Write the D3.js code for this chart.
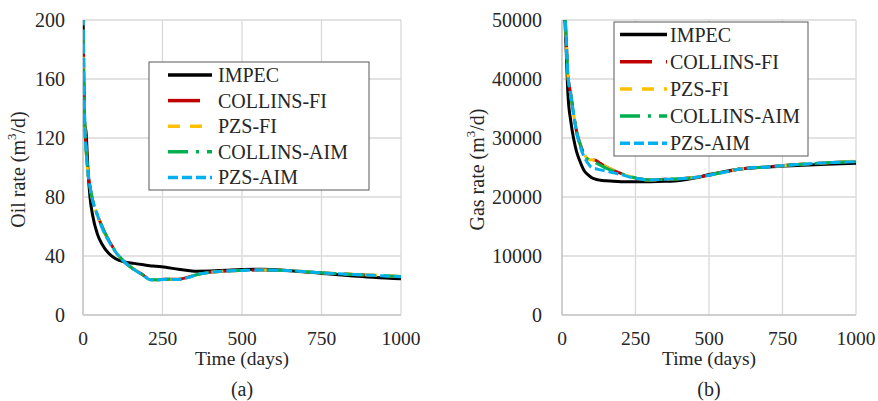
<!DOCTYPE html>
<html><head><meta charset="utf-8">
<script src="https://cdn.jsdelivr.net/npm/d3@7"></script>
<style>
body{margin:0;background:#fff}
text{font-family:"Liberation Serif","Times New Roman",serif;fill:#262626}
</style>
</head><body>
<svg id="chart" width="878" height="401"></svg>
<script>
// ---- data ----
const seriesNames = ["IMPEC", "COLLINS-FI", "PZS-FI", "COLLINS-AIM", "PZS-AIM"];
const seriesColors = ["#000000", "#C00000", "#FFC000", "#00B050", "#00B0F0"];
const seriesDashes = [null, "32,14", "12,10", "20,8,3,8", "10,4"];

const xTicks = [0, 250, 500, 750, 1000];
const oilTicks = [0, 40, 80, 120, 160, 200];
const gasTicks = [0, 10000, 20000, 30000, 40000, 50000];

// oil rate (m3/d) vs time (days)
const oilDays       = [0, 2, 5, 10, 15, 22, 30, 45, 60, 80, 100, 130, 160, 190, 210, 230, 260, 300, 330, 360, 400, 450, 500, 560, 650, 750, 850, 1000];
const oilImpec      = [215, 165, 131, 123, 101, 80, 68, 55, 48, 42, 38.5, 36, 35, 34, 33.4, 33, 32.3, 31, 30.2, 29.7, 29.8, 30.3, 30.8, 31, 30, 28.2, 26.5, 24.5];
const oilCollinsFI  = [220, 172, 136, 112, 98, 87, 78, 68, 60, 51, 44, 36, 31, 27, 24.2, 23.9, 24.3, 24.2, 25.6, 27.6, 29, 29.8, 30.2, 30.5, 30, 28.6, 27.5, 26];
const oilPzsFI      = [220, 170, 135, 111, 97, 87, 78, 68, 59, 50.5, 43.5, 36, 31, 27, 24, 23.8, 24.2, 24.1, 25.4, 27.4, 29, 29.8, 30.2, 30.5, 30, 28.7, 27.6, 26.2];
const oilCollinsAIM = [220, 171, 135, 112, 98, 87, 78, 68, 60, 51, 44, 36, 31, 27, 24.1, 23.9, 24.3, 24.2, 25.5, 27.5, 29, 29.8, 30.2, 30.5, 30, 28.6, 27.5, 26.1];
const oilPzsAIM     = [222, 172, 134, 110, 97, 87, 78, 68, 59, 50.5, 43.5, 36, 30.8, 26.8, 23.9, 23.7, 24.2, 24.1, 25.4, 27.4, 28.9, 29.8, 30.2, 30.5, 30, 28.6, 27.5, 26];

// gas rate (m3/d) vs time (days)
const gasDays       = [0, 5, 10, 15, 20, 30, 40, 50, 60, 75, 90, 100, 115, 130, 150, 175, 200, 230, 260, 300, 350, 400, 450, 500, 550, 600, 700, 800, 900, 1000];
const gasImpec      = [62000, 56000, 50000, 44000, 37600, 32800, 29800, 27600, 26200, 24500, 23700, 23300, 23000, 22850, 22750, 22650, 22600, 22600, 22600, 22600, 22650, 22800, 23200, 23800, 24300, 24700, 25100, 25350, 25550, 25700];
const gasCollinsFI  = [64000, 57000, 51500, 46000, 40800, 37400, 34000, 31000, 29300, 27300, 26500, 26400, 26200, 25700, 25100, 24500, 24000, 23500, 23100, 22900, 23000, 23100, 23300, 23700, 24200, 24700, 25100, 25500, 25800, 26000];
const gasPzsFI      = [64000, 57000, 51500, 46000, 40600, 37200, 33800, 30900, 29200, 27300, 26400, 26300, 26100, 25700, 25100, 24500, 24000, 23500, 23100, 22900, 23000, 23100, 23300, 23700, 24200, 24700, 25100, 25500, 25800, 26100];
const gasCollinsAIM = [64000, 57000, 51500, 46000, 40700, 37300, 33900, 31000, 29200, 27200, 26300, 26100, 25800, 25400, 24900, 24400, 24000, 23500, 23100, 22900, 23000, 23100, 23300, 23700, 24200, 24700, 25100, 25500, 25800, 26000];
const gasPzsAIM     = [64000, 57000, 51500, 46000, 40700, 37200, 33800, 30800, 28900, 26800, 25600, 25000, 24800, 24600, 24400, 24100, 23800, 23400, 23100, 22900, 23000, 23100, 23300, 23700, 24200, 24700, 25100, 25500, 25800, 26000];

// ---- drawing ----
const svg = d3.select("#chart");

const panels = [
  {
    id: "a", days: oilDays,
    values: [oilImpec, oilCollinsFI, oilPzsFI, oilCollinsAIM, oilPzsAIM],
    yMax: 200, yTicks: oilTicks, yLabel: "Oil rate (m",
    left: 83, right: 401, top: 20, bottom: 315, labelX: 18, tickEnd: 65,
    legend: {x: 149, y: 62, w: 220, h: 128, row0: 75, step: 25.6, l0: 168, l1: 212, tx: 218}
  },
  {
    id: "b", days: gasDays,
    values: [gasImpec, gasCollinsFI, gasPzsFI, gasCollinsAIM, gasPzsAIM],
    yMax: 50000, yTicks: gasTicks, yLabel: "Gas rate (m",
    left: 562, right: 856, top: 20, bottom: 315, labelX: 477, tickEnd: 542,
    legend: {x: 614, y: 22, w: 194, h: 134, row0: 34.5, step: 27.2, l0: 620, l1: 667, tx: 670}
  }
];

panels.forEach(p => {
  const x = d3.scaleLinear().domain([0, 1000]).range([p.left, p.right]);
  const y = d3.scaleLinear().domain([0, p.yMax]).range([p.bottom, p.top]);
  const g = svg.append("g");

  // grid
  g.selectAll(".hg").data(p.yTicks.slice(1)).join("line")
    .attr("x1", p.left).attr("x2", p.right)
    .attr("y1", d => y(d)).attr("y2", d => y(d))
    .attr("stroke", "#d9d9d9").attr("stroke-width", 1.3);
  g.selectAll(".vg").data(xTicks.slice(1)).join("line")
    .attr("y1", p.top).attr("y2", p.bottom)
    .attr("x1", d => x(d)).attr("x2", d => x(d))
    .attr("stroke", "#d9d9d9").attr("stroke-width", 1.3);
  // axes lines
  g.append("line").attr("x1", p.left).attr("x2", p.left).attr("y1", p.top).attr("y2", p.bottom)
    .attr("stroke", "#bfbfbf").attr("stroke-width", 1.5);
  g.append("line").attr("x1", p.left).attr("x2", p.right).attr("y1", p.bottom).attr("y2", p.bottom)
    .attr("stroke", "#bfbfbf").attr("stroke-width", 1.5);

  // tick labels
  g.selectAll(".yt").data(p.yTicks).join("text")
    .attr("x", p.tickEnd).attr("y", d => y(d) + 7)
    .attr("text-anchor", "end").attr("font-size", 20).text(d => d);
  g.selectAll(".xt").data(xTicks).join("text")
    .attr("x", d => x(d)).attr("y", 345)
    .attr("text-anchor", "middle").attr("font-size", 19.5).text(d => d);

  // axis titles
  g.append("text").attr("x", (p.left + p.right) / 2).attr("y", 365)
    .attr("text-anchor", "middle").attr("font-size", 19.5).text("Time (days)");
  const yl = g.append("text")
    .attr("transform", `translate(${p.labelX},${(p.top + p.bottom) / 2 + 2}) rotate(-90)`)
    .attr("text-anchor", "middle").attr("dominant-baseline", "central").attr("font-size", 20);
  yl.append("tspan").text(p.yLabel);
  yl.append("tspan").attr("font-size", 13).attr("dy", -7).text("3");
  yl.append("tspan").attr("dy", 7).text("/d)");

  // caption
  g.append("text").attr("x", (p.left + p.right) / 2).attr("y", 396)
    .attr("text-anchor", "middle").attr("font-size", 20).text(`(${p.id})`);

  // series, clipped to plot area
  const clipId = "clip-" + p.id;
  svg.append("clipPath").attr("id", clipId).append("rect")
    .attr("x", p.left).attr("y", p.top).attr("width", p.right - p.left).attr("height", p.bottom - p.top);
  const line = d3.line().x(d => x(d[0])).y(d => y(d[1])).curve(d3.curveMonotoneX);
  const sg = g.append("g").attr("clip-path", `url(#${clipId})`);
  p.values.forEach((vals, i) => {
    sg.append("path")
      .datum(p.days.map((t, k) => [t, vals[k]]))
      .attr("d", line)
      .attr("fill", "none")
      .attr("stroke", seriesColors[i])
      .attr("stroke-width", 3)
      .attr("stroke-dasharray", seriesDashes[i])
      .attr("stroke-linejoin", "round");
  });

  // legend
  const L = p.legend;
  const lg = g.append("g");
  lg.append("rect").attr("x", L.x).attr("y", L.y).attr("width", L.w).attr("height", L.h)
    .attr("fill", "#fff").attr("stroke", "#595959").attr("stroke-width", 1);
  seriesNames.forEach((name, i) => {
    const ry = L.row0 + i * L.step;
    lg.append("line").attr("x1", L.l0).attr("x2", L.l1).attr("y1", ry).attr("y2", ry)
      .attr("stroke", seriesColors[i]).attr("stroke-width", 3.5)
      .attr("stroke-dasharray", seriesDashes[i]);
    lg.append("text").attr("x", L.tx).attr("y", ry + 7).attr("font-size", 20).text(name);
  });
});
</script>
</body></html>
